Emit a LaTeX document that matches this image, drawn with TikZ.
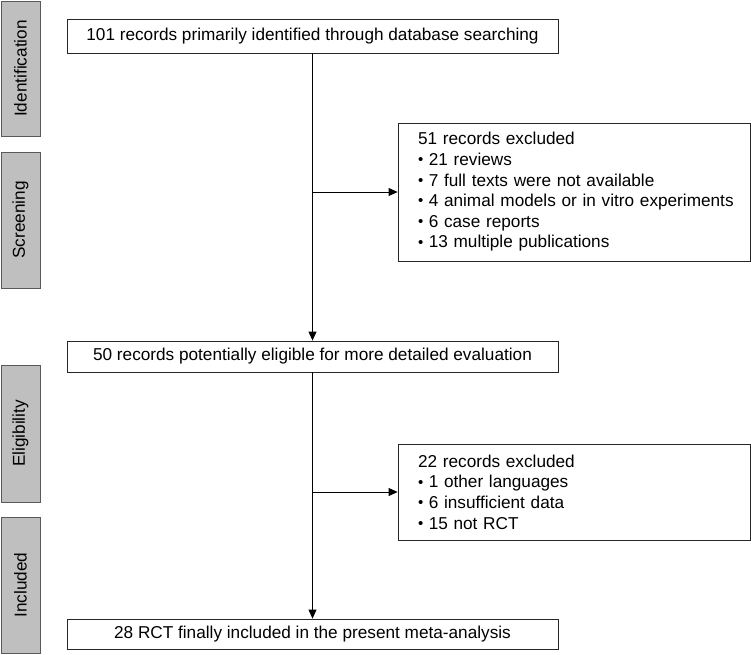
\documentclass[tikz,border=0pt]{standalone}
\usepackage{fontspec}
\setmainfont{Liberation Sans}
\usetikzlibrary{arrows.meta}
\newcommand{\smbul}{{\fontsize{15}{15}\selectfont\raisebox{0.8pt}{•}}\hspace{5.5pt}}
\begin{document}
\begin{tikzpicture}[x=1pt,y=-1pt,
  font=\fontsize{17.2}{20.6}\selectfont,
  mainbox/.style={draw=black!85, line width=0.8pt, minimum width=491pt, inner sep=0pt},
  exclbox/.style={draw=black!85, line width=0.8pt, minimum width=352pt, text width=312pt, inner xsep=0pt, align=left},
  sidebar/.style={draw=black!65, fill=black!25, line width=0.8pt, minimum width=39pt, inner sep=0pt},
  flow/.style={line width=0.8pt, -{Triangle[length=9pt,width=8pt]}}]
\useasboundingbox (0,0) rectangle (751,654);
% side bars
\node[sidebar, minimum height=135pt] (s1) at (20.5,68.5) {};
\node[rotate=90] (t1) at (s1.center) {Identification};
\node[sidebar, minimum height=136pt] (s2) at (20.5,220) {};
\node[rotate=90] (t2) at (s2.center) {Screening};
\node[sidebar, minimum height=137pt] (s3) at (20.5,433.5) {};
\node[rotate=90] (t3) at (s3.center) {Eligibility};
\node[sidebar, minimum height=136pt] (s4) at (20.5,585) {};
\node[rotate=90] (t4) at (s4.center) {Included};
% main boxes
\node[mainbox, minimum height=34pt] (top) at (312.5,36) {101 records primarily identified through database searching};
\node[mainbox, minimum height=31pt] (mid) at (312.5,356.5) {50 records potentially eligible for more detailed evaluation};
\node[mainbox, minimum height=30pt] (bot) at (312.5,634) {28 RCT finally included in the present meta-analysis};
% exclusion boxes
\node[exclbox, minimum height=138pt] (ex1) at (574,192) {\mbox{51 records excluded}\\
\mbox{\smbul 21 reviews}\\
\mbox{\smbul 7 full texts were not available}\\
\mbox{\smbul 4 animal models or in vitro experiments}\\
\mbox{\smbul 6 case reports}\\
\mbox{\smbul 13 multiple publications}};
\node[exclbox, minimum height=96pt] (ex2) at (574,492) {\mbox{22 records excluded}\\
\mbox{\smbul 1 other languages}\\
\mbox{\smbul 6 insufficient data}\\
\mbox{\smbul 15 not RCT}};
% connectors
\draw[flow] (top.south) -- (mid.north);
\draw[flow] (mid.south) -- (bot.north);
\coordinate (b1) at (top.south |- ex1.west);
\coordinate (b2) at (mid.south |- ex2.west);
\draw[flow] (b1) -- (ex1.west);
\draw[flow] (b2) -- (ex2.west);
\end{tikzpicture}
\end{document}
